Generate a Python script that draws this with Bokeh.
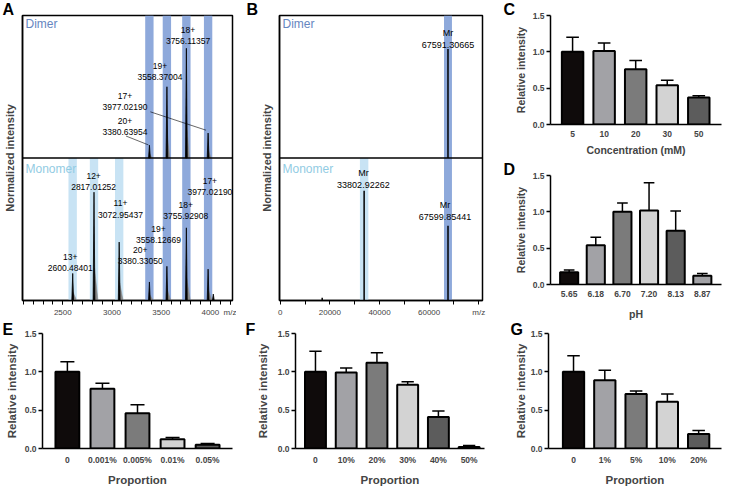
from bokeh.plotting import figure
from bokeh.layouts import row, column
from bokeh.models import Range1d, FixedTicker, Label, Span, PrintfTickFormatter
from bokeh.core.properties import value
from bokeh.embed import file_html
from bokeh.resources import INLINE

FONT = "Liberation Sans"

# ---------------- Panel A data (m/z spectra) ----------------
a_dimer_charge = ["20+", "19+", "18+", "17+"]
a_dimer_mz = [3380.63954, 3558.37004, 3756.11357, 3977.02190]
a_dimer_int = [0.09, 0.50, 0.77, 0.175]
a_mono_charge = ["13+", "12+", "11+", "20+", "19+", "18+", "17+"]
a_mono_mz = [2600.48401, 2817.01252, 3072.95437, 3380.33050, 3558.12669, 3755.92908, 3977.02190]
a_mono_int = [0.19, 0.76, 0.41, 0.13, 0.24, 0.51, 0.22]
a_minor_mz = [4030.0]
a_minor_int = [0.045]
a_dimer_bands = [3380, 3558, 3756, 3977]
a_mono_bands = [2600, 2817, 3073]
a_ticks = [2500, 3000, 3500, 4000]

# ---------------- Panel B data (deconvoluted masses) ----------------
b_dimer_mass = [67591.30665]
b_dimer_int = [0.765]
b_mono_mass = [33802.92262, 67599.85441]
b_mono_int = [0.77, 0.525]
b_minor_mass = [16900.0]
b_minor_int = [0.02]
b_dimer_bands = [67591]
b_mono_bands = [33803]
b_ticks = [0, 20000, 40000, 60000]

# ---------------- Bar panels ----------------
c_cats = ["5", "10", "20", "30", "50"]
c_vals = [1.0, 1.01, 0.76, 0.54, 0.37]
c_err = [0.20, 0.11, 0.12, 0.07, 0.025]

d_cats = ["5.65", "6.18", "6.70", "7.20", "8.13", "8.87"]
d_vals = [0.17, 0.54, 1.0, 1.02, 0.74, 0.12]
d_err = [0.03, 0.11, 0.12, 0.38, 0.27, 0.03]

e_cats = ["0", "0.001%", "0.005%", "0.01%", "0.05%"]
e_vals = [1.0, 0.78, 0.46, 0.12, 0.05]
e_err = [0.13, 0.07, 0.11, 0.025, 0.015]

f_cats = ["0", "10%", "20%", "30%", "40%", "50%"]
f_vals = [1.0, 0.99, 1.12, 0.83, 0.41, 0.02]
f_err = [0.27, 0.06, 0.13, 0.04, 0.08, 0.02]

g_cats = ["0", "1%", "5%", "10%", "20%"]
g_vals = [1.0, 0.89, 0.71, 0.61, 0.19]
g_err = [0.21, 0.13, 0.04, 0.10, 0.045]

BAR_COLORS = ["#0f0b0b", "#a2a2a6", "#7b7b7b", "#d3d3d3", "#5c5c5c", "#a2a2a6"]
DARK_BAND = "#8EA9DB"
LIGHT_BAND = "#C8E3F4"
DIMER_COLOR = "#6686BF"
MONO_COLOR = "#92CCE3"


def letter_title(p, text, dx, standoff):
    t = p.title
    t.text = text
    t.align = "left"
    t.offset = dx
    t.standoff = standoff
    t.text_font = FONT
    t.text_font_size = "16px"
    t.text_font_style = "bold"
    t.text_color = "black"


def style_spec(p, ticks, minor, mz_pos):
    p.grid.visible = False
    p.outline_line_color = "black"
    p.outline_line_width = 1.5
    p.outline_line_alpha = 1.0
    ya = p.yaxis[0]
    ya.ticker = FixedTicker(ticks=[])
    ya.axis_label = "Normalized intensity"
    ya.axis_label_text_font = FONT
    ya.axis_label_text_font_style = "bold"
    ya.axis_label_text_font_size = "11px"
    ya.axis_label_standoff = 7
    ya.major_tick_out = 0
    ya.major_tick_in = 0
    ya.minor_tick_out = 0
    ya.minor_tick_in = 0
    ya.axis_line_width = 1.5
    xa = p.xaxis[0]
    xa.ticker = FixedTicker(ticks=ticks + [mz_pos], minor_ticks=minor)
    ov = {t: str(t) for t in ticks}
    ov[mz_pos] = "m/z"
    xa.major_label_overrides = ov
    xa.major_label_text_font = FONT
    xa.major_label_text_font_size = "8px"
    xa.major_label_standoff = 3
    xa.major_tick_out = 4
    xa.major_tick_in = 0
    xa.minor_tick_out = 4
    xa.minor_tick_in = 0
    xa.axis_line_width = 1.5
    xa.major_tick_line_width = 1
    xa.minor_tick_line_width = 1


def peaks_patches(mz, inten, base, half):
    xs = [[m - half, m, m + half] for m in mz]
    ys = [[base, base + h, base] for h in inten]
    return xs, ys


def tails(mz, inten, base, w):
    xs = [[m, m + w * 0.12, m + w] for m in mz]
    ys = [[base, base + 0.3 * h, base] for h in inten]
    return xs, ys


# ======================= Panel A =======================
pa = figure(width=236, height=322, x_range=Range1d(2090, 4225), y_range=Range1d(0, 2),
            output_backend="svg", toolbar_location=None,
            min_border_left=19, min_border_right=4, min_border_top=4, min_border_bottom=22)
style_spec(pa, a_ticks, list(range(2100, 4300, 100)), 4200)
letter_title(pa, "A", -20, -4)

pa.vbar(x=a_dimer_bands, width=85, top=2, bottom=0, fill_color=DARK_BAND, line_color=None)
pa.vbar(x=a_mono_bands, width=85, top=1, bottom=0, fill_color=LIGHT_BAND, line_color=None)

xs, ys = tails(a_mono_mz, a_mono_int, 0, 40)
pa.patches(xs, ys, fill_color="#8a8a8a", line_color="#8a8a8a", line_width=0.5)
xs, ys = tails(a_dimer_mz, a_dimer_int, 1, 30)
pa.patches(xs, ys, fill_color="#8a8a8a", line_color="#8a8a8a", line_width=0.5)
xs, ys = peaks_patches(a_mono_mz + a_minor_mz, a_mono_int + a_minor_int, 0, 9)
pa.patches(xs, ys, fill_color="black", line_color="black", line_width=0.8)
xs, ys = peaks_patches(a_dimer_mz, a_dimer_int, 1, 9)
pa.patches(xs, ys, fill_color="black", line_color="black", line_width=0.8)

pa.add_layout(Span(location=1, dimension="width", line_color="black", line_width=1.5))

# label layout (centre of the two-line blocks)
a_dlab_x = [3132, 3488, 3773, 3132]
a_dlab_y = [1.218, 1.604, 1.86, 1.396]
a_mlab_x = [2576, 2813, 3086, 3287, 3472, 3750, 3995]
a_mlab_y = [0.266, 0.836, 0.642, 0.317, 0.464, 0.631, 0.802]
HALF = 0.039
for lx, ly, ch, mzv in [(a_dlab_x, a_dlab_y, a_dimer_charge, a_dimer_mz),
                         (a_mlab_x, a_mlab_y, a_mono_charge, a_mono_mz)]:
    pa.text(x=lx, y=[v + HALF for v in ly], text=ch, text_font=value(FONT),
            text_font_size="8.5px", text_align="center", text_baseline="middle", text_color="black")
    pa.text(x=lx, y=[v - HALF for v in ly], text=["%.5f" % m for m in mzv], text_font=value(FONT),
            text_font_size="8.5px", text_align="center", text_baseline="middle", text_color="black")

# leader lines (17+ and 20+ in dimer)
pa.segment(x0=[3390, 3143], y0=[1.324, 1.154], x1=[3956, 3369], y1=[1.195, 1.092],
           line_color="black", line_width=0.6)

pa.add_layout(Label(x=3, x_units="screen", y=2, y_units="data", y_offset=-8, text="Dimer",
                    text_font=FONT, text_font_size="12px", text_color=DIMER_COLOR,
                    text_baseline="middle", text_align="left"))
pa.add_layout(Label(x=3, x_units="screen", y=1, y_units="data", y_offset=-11, text="Monomer",
                    text_font=FONT, text_font_size="12px", text_color=MONO_COLOR,
                    text_baseline="middle", text_align="left"))

# ======================= Panel B =======================
pb = figure(width=250, height=322, x_range=Range1d(-300, 81500), y_range=Range1d(0, 2),
            output_backend="svg", toolbar_location=None,
            min_border_left=43, min_border_right=4, min_border_top=4, min_border_bottom=22)
style_spec(pb, b_ticks, [10000, 30000, 50000, 70000], 80000)
letter_title(pb, "B", -33, -4)

pb.vbar(x=b_dimer_bands, width=3200, top=2, bottom=0, fill_color=DARK_BAND, line_color=None)
pb.vbar(x=b_mono_bands, width=3400, top=1, bottom=0, fill_color=LIGHT_BAND, line_color=None)
pb.segment(x0=b_dimer_mass, y0=[1] * len(b_dimer_mass), x1=b_dimer_mass,
           y1=[1 + v for v in b_dimer_int], line_color="black", line_width=1.5)
pb.segment(x0=b_mono_mass + b_minor_mass, y0=[0] * 3, x1=b_mono_mass + b_minor_mass,
           y1=b_mono_int + b_minor_int, line_color="black", line_width=1.5)
pb.add_layout(Span(location=1, dimension="width", line_color="black", line_width=1.5))

b_lab_x = [67590, 33500, 66400]
b_lab_y = [1.836, 0.853, 0.628]
b_lab_mass = b_dimer_mass + b_mono_mass
HB = 0.042
pb.text(x=b_lab_x, y=[v + HB for v in b_lab_y], text=["Mr"] * 3, text_font=value(FONT),
        text_font_size="9px", text_align="center", text_baseline="middle", text_color="black")
pb.text(x=b_lab_x, y=[v - HB for v in b_lab_y], text=["%.5f" % m for m in b_lab_mass],
        text_font=value(FONT), text_font_size="9px", text_align="center", text_baseline="middle",
        text_color="black")
pb.add_layout(Label(x=3, x_units="screen", y=2, y_units="data", y_offset=-8, text="Dimer",
                    text_font=FONT, text_font_size="12px", text_color=DIMER_COLOR,
                    text_baseline="middle", text_align="left"))
pb.add_layout(Label(x=3, x_units="screen", y=1, y_units="data", y_offset=-11, text="Monomer",
                    text_font=FONT, text_font_size="12px", text_color=MONO_COLOR,
                    text_baseline="middle", text_align="left"))


# ======================= Bar panels =======================
def bar_panel(cats, vals, errs, letter, xtitle, w, h, mbl, mbr, mbb, pad_l, pad_r,
              ylab_st, xlab_st, title_size, letter_dx, letter_st):
    n = len(cats)
    idx = list(range(n))
    p = figure(width=w, height=h, x_range=Range1d(-pad_l, n - 1 + pad_r), y_range=Range1d(0, 1.5),
               output_backend="svg", toolbar_location=None,
               min_border_left=mbl, min_border_right=mbr, min_border_top=4, min_border_bottom=mbb)
    p.grid.visible = False
    p.outline_line_color = None
    tops = [v + e for v, e in zip(vals, errs)]
    p.segment(x0=idx, y0=vals, x1=idx, y1=tops, line_color="black", line_width=1.5)
    p.segment(x0=[i - 0.2 for i in idx], y0=tops, x1=[i + 0.2 for i in idx], y1=tops,
              line_color="black", line_width=1.5)
    p.vbar(x=idx, top=vals, width=0.68, fill_color=BAR_COLORS[:n], line_color="black", line_width=2)

    ya = p.yaxis[0]
    ya.ticker = FixedTicker(ticks=[0, 0.5, 1.0, 1.5])
    ya.formatter = PrintfTickFormatter(format="%.1f")
    ya.axis_label = "Relative intensity"
    ya.axis_label_standoff = ylab_st
    ya.axis_label_text_font_size = title_size
    ya.major_tick_out = 4
    ya.major_tick_in = 0
    ya.minor_tick_out = 0
    ya.minor_tick_in = 0
    ya.major_label_standoff = 2

    xa = p.xaxis[0]
    xa.ticker = FixedTicker(ticks=idx)
    xa.major_label_overrides = {i: c for i, c in enumerate(cats)}
    xa.axis_label = xtitle
    xa.axis_label_standoff = xlab_st
    xa.axis_label_text_font_size = title_size
    xa.major_tick_out = 0
    xa.major_tick_in = 0
    xa.minor_tick_out = 0
    xa.minor_tick_in = 0
    xa.major_label_standoff = 6

    for ax in (xa, ya):
        ax.axis_line_width = 1.5
        ax.major_tick_line_width = 1.5
        ax.major_label_text_font = FONT
        ax.major_label_text_font_style = "bold"
        ax.major_label_text_font_size = "8.5px"
        ax.axis_label_text_font = FONT
        ax.axis_label_text_font_style = "bold"
    letter_title(p, letter, letter_dx, letter_st)
    return p


pc = bar_panel(c_cats, c_vals, c_err, "C", "Concentration (mM)", 237, 160, 64, 2, 36,
               0.7, 0.72, 3, 4, "10.5px", -47, -4)
pd = bar_panel(d_cats, d_vals, d_err, "D", "pH", 237, 162, 64, 2, 38,
               0.7, 0.72, 3, 8, "10.5px", -47, -4)
pe = bar_panel(e_cats, e_vals, e_err, "E", "Proportion", 236, 166, 42, 4, 40,
               0.71, 0.71, 4, 6, "11.5px", -40, -8)
pf = bar_panel(f_cats, f_vals, f_err, "F", "Proportion", 250, 166, 59, 2, 40,
               0.65, 0.5, 6, 6, "11.5px", -50, -8)
pg = bar_panel(g_cats, g_vals, g_err, "G", "Proportion", 237, 166, 62, 2, 40,
               0.8, 0.73, 1, 6, "11.5px", -38, -8)

layout = column(row(pa, pb, column(pc, pd)), row(pe, pf, pg))

with open("out.html", "w") as fh:
    fh.write(file_html(layout, INLINE))
